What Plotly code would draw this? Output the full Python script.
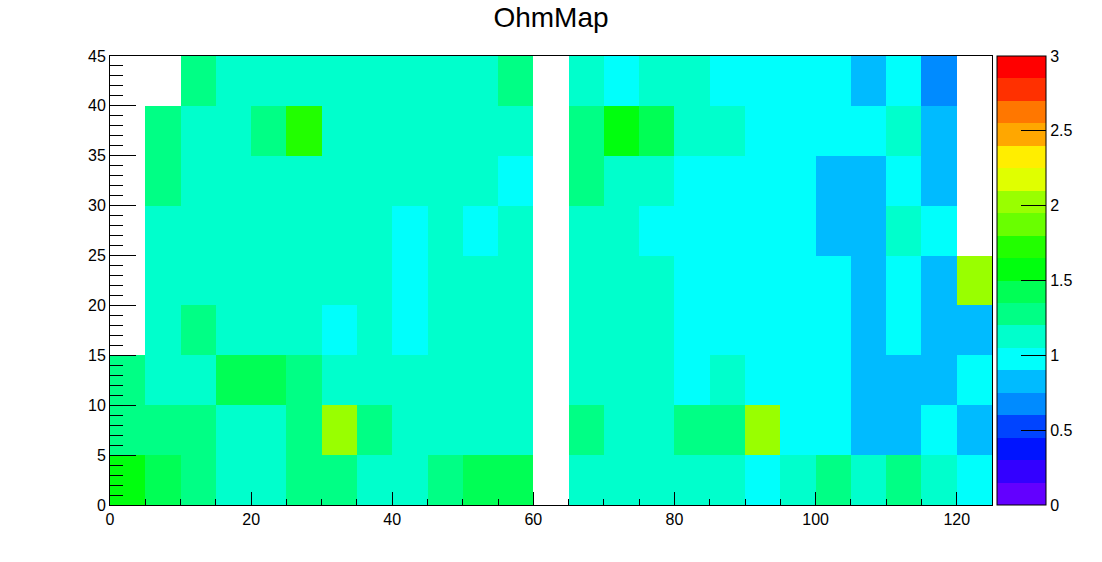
import plotly.graph_objects as go

# Bin centres (bin width 5)
x_centers = [2.5, 7.5, 12.5, 17.5, 22.5, 27.5, 32.5, 37.5, 42.5, 47.5, 52.5, 57.5, 62.5,
             67.5, 72.5, 77.5, 82.5, 87.5, 92.5, 97.5, 102.5, 107.5, 112.5, 117.5, 122.5]
y_centers = [2.5, 7.5, 12.5, 17.5, 22.5, 27.5, 32.5, 37.5, 42.5]

N = None
# Rows from y=0-5 (bottom) to y=40-45 (top); columns x=0-5 ... 120-125
row_y00 = [1.58, 1.43, 1.27, 1.12, 1.10, 1.29, 1.26, 1.13, 1.11, 1.30, 1.41, 1.44, N,
           1.14, 1.12, 1.10, 1.13, 1.11, 0.99, 1.09, 1.31, 1.15, 1.28, 1.16, 1.01]
row_y05 = [1.30, 1.27, 1.25, 1.10, 1.12, 1.29, 2.02, 1.32, 1.14, 1.12, 1.11, 1.13, N,
           1.26, 1.12, 1.14, 1.31, 1.28, 2.05, 0.97, 1.00, 0.84, 0.86, 0.95, 0.82]
row_y10 = [1.27, 1.12, 1.13, 1.44, 1.46, 1.30, 1.11, 1.13, 1.12, 1.14, 1.10, 1.12, N,
           1.13, 1.11, 1.12, 1.02, 1.09, 0.98, 1.00, 0.99, 0.83, 0.85, 0.81, 0.97]
row_y15 = [N, 1.12, 1.29, 1.11, 1.13, 1.12, 1.03, 1.14, 0.99, 1.11, 1.12, 1.13, N,
           1.12, 1.14, 1.11, 0.98, 1.00, 0.99, 0.97, 1.01, 0.84, 0.99, 0.82, 0.83]
row_y20 = [N, 1.11, 1.12, 1.13, 1.12, 1.10, 1.14, 1.12, 1.00, 1.13, 1.11, 1.12, N,
           1.13, 1.12, 1.10, 0.99, 0.98, 1.00, 0.97, 0.99, 0.85, 1.01, 0.83, 2.01]
row_y25 = [N, 1.12, 1.13, 1.11, 1.12, 1.14, 1.12, 1.13, 0.98, 1.11, 1.00, 1.12, N,
           1.12, 1.13, 0.99, 0.98, 1.00, 0.97, 0.99, 0.84, 0.83, 1.12, 0.99, N]
row_y30 = [N, 1.29, 1.12, 1.11, 1.13, 1.12, 1.14, 1.12, 1.11, 1.13, 1.12, 0.99, N,
           1.28, 1.12, 1.11, 0.99, 1.00, 0.98, 0.97, 0.83, 0.85, 1.01, 0.82, N]
row_y35 = [N, 1.30, 1.12, 1.13, 1.28, 1.72, 1.12, 1.11, 1.13, 1.12, 1.14, 1.12, N,
           1.27, 1.58, 1.43, 1.12, 1.13, 0.99, 1.00, 0.98, 0.99, 1.12, 0.84, N]
row_y40 = [N, N, 1.29, 1.12, 1.11, 1.13, 1.12, 1.14, 1.12, 1.11, 1.13, 1.30, N,
           1.12, 0.99, 1.13, 1.11, 0.98, 1.00, 0.99, 0.97, 0.82, 1.00, 0.68, N]

z_values = [row_y00, row_y05, row_y10, row_y15, row_y20, row_y25, row_y30, row_y35, row_y40]

# ROOT default rainbow palette, 20 contour levels from 0 to 3
palette = ["rgb(99,0,255)", "rgb(51,0,255)", "rgb(0,20,255)", "rgb(0,68,255)",
           "rgb(0,139,255)", "rgb(0,187,255)", "rgb(0,255,252)", "rgb(0,255,204)",
           "rgb(0,255,133)", "rgb(0,255,85)", "rgb(0,255,14)", "rgb(34,255,0)",
           "rgb(105,255,0)", "rgb(153,255,0)", "rgb(224,255,0)", "rgb(255,238,0)",
           "rgb(255,167,0)", "rgb(255,119,0)", "rgb(255,48,0)", "rgb(255,0,0)"]
colorbar_ticks = [0, 0.5, 1, 1.5, 2, 2.5, 3]

n = len(palette)
colorscale = []
for i, c in enumerate(palette):
    colorscale.append([i / n, c])
    colorscale.append([(i + 1) / n, c])

FONT = "Liberation Sans, Arial, Helvetica, sans-serif"

fig = go.Figure(go.Heatmap(
    x=x_centers, y=y_centers, z=z_values,
    zmin=0, zmax=3, colorscale=colorscale,
    hoverongaps=False,
    colorbar=dict(
        x=1.0057, xanchor="left", xpad=0,
        y=0.5, yanchor="middle", ypad=0,
        len=1, lenmode="fraction",
        thickness=49, thicknessmode="pixels",
        outlinewidth=1, outlinecolor="black",
        tickmode="array", tickvals=colorbar_ticks,
        ticktext=[f"{v:g}" for v in colorbar_ticks],
        ticks="inside", ticklen=25, tickcolor="black", tickwidth=1,
        tickfont=dict(family=FONT, size=16, color="black"),
    ),
))

fig.update_layout(
    width=1102, height=562,
    margin=dict(l=110, r=110, t=56, b=57, autoexpand=False),
    paper_bgcolor="white", plot_bgcolor="white",
    title=dict(text="OhmMap", x=0.5, xanchor="center", y=1 - 17 / 562, yanchor="middle",
               yref="container", font=dict(family=FONT, size=28, color="black")),
    xaxis=dict(
        range=[0, 125], tick0=0, dtick=20, ticks="inside", ticklen=13,
        tickcolor="black", tickwidth=1,
        showline=True, linecolor="black", linewidth=1, mirror=True,
        showgrid=False, zeroline=False,
        tickfont=dict(family=FONT, size=16, color="black"),
        minor=dict(tick0=0, dtick=5, ticks="inside", ticklen=6, tickcolor="black", showgrid=False),
    ),
    yaxis=dict(
        range=[0, 45], tick0=0, dtick=5, ticks="inside", ticklen=26,
        tickcolor="black", tickwidth=1,
        showline=True, linecolor="black", linewidth=1, mirror=True,
        showgrid=False, zeroline=False,
        tickfont=dict(family=FONT, size=16, color="black"),
        minor=dict(tick0=0, dtick=1, ticks="inside", ticklen=13, tickcolor="black", showgrid=False),
    ),
)

fig.write_html("out.html")
